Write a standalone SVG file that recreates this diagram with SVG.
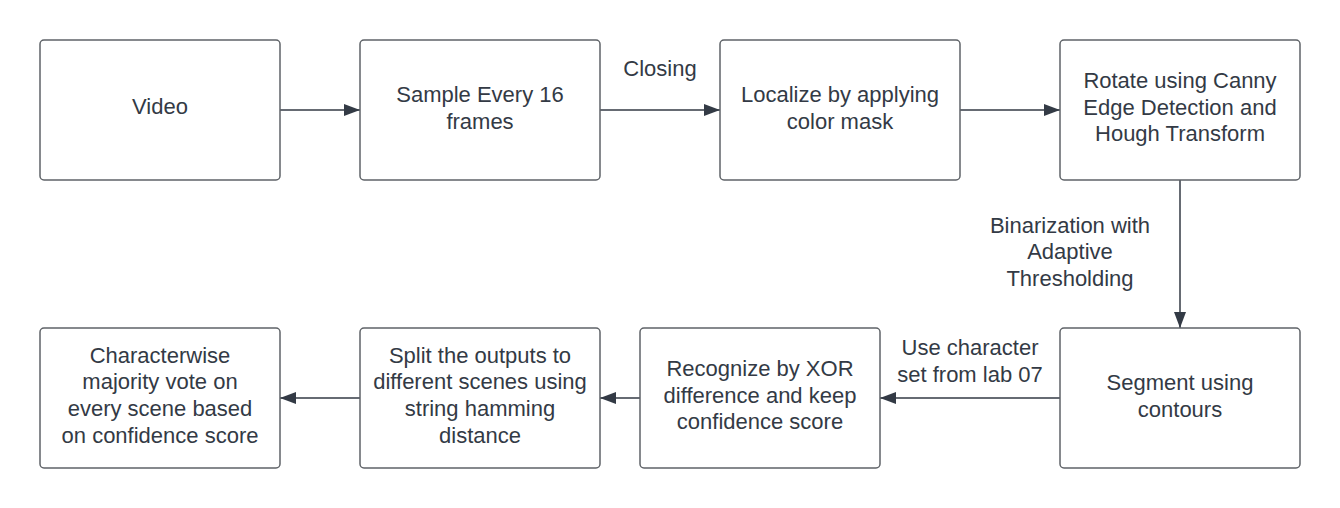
<svg xmlns="http://www.w3.org/2000/svg" width="1340" height="508" viewBox="0 0 1340 508">
<style>
.box{fill:#ffffff;stroke:#5f6368;stroke-width:1.5}
.t{font-family:"Liberation Sans",Arial,sans-serif;font-size:22px;fill:#333a45;text-anchor:middle}
.c{fill:none;stroke:#333a45;stroke-width:1.5}
</style>
<defs>
<marker id="ah" viewBox="0 0 16 12" refX="16" refY="6" markerWidth="16" markerHeight="12" markerUnits="userSpaceOnUse" orient="auto">
<path d="M0,0 L16,6 L0,12 Z" fill="#333a45"/>
</marker>
</defs>
<rect width="1340" height="508" fill="#ffffff"/>
<g id="connectors">
<line class="c" x1="280" y1="110" x2="360" y2="110" marker-end="url(#ah)"/>
<line class="c" x1="600" y1="110" x2="720" y2="110" marker-end="url(#ah)"/>
<line class="c" x1="960" y1="110" x2="1060" y2="110" marker-end="url(#ah)"/>
<line class="c" x1="1180" y1="180" x2="1180" y2="328" marker-end="url(#ah)"/>
<line class="c" x1="1060" y1="398" x2="880" y2="398" marker-end="url(#ah)"/>
<line class="c" x1="640" y1="398" x2="600" y2="398" marker-end="url(#ah)"/>
<line class="c" x1="360" y1="398" x2="280" y2="398" marker-end="url(#ah)"/>
<text class="t" x="660" y="76">Closing</text>
<text class="t" x="1070" y="232.7">Binarization with</text>
<text class="t" x="1070" y="259.3">Adaptive</text>
<text class="t" x="1070" y="286">Thresholding</text>
<text class="t" x="970" y="355">Use character</text>
<text class="t" x="970" y="381.7">set from lab 07</text>
</g>
<g id="n1">
<rect class="box" x="40" y="40" width="240" height="140" rx="4"/>
<text class="t" x="160" y="113.5">Video</text>
</g>
<g id="n2">
<rect class="box" x="360" y="40" width="240" height="140" rx="4"/>
<text class="t" x="480" y="102.3">Sample Every 16</text>
<text class="t" x="480" y="129">frames</text>
</g>
<g id="n3">
<rect class="box" x="720" y="40" width="240" height="140" rx="4"/>
<text class="t" x="840" y="102.3">Localize by applying</text>
<text class="t" x="840" y="129">color mask</text>
</g>
<g id="n4">
<rect class="box" x="1060" y="40" width="240" height="140" rx="4"/>
<text class="t" x="1180" y="88">Rotate using Canny</text>
<text class="t" x="1180" y="114.7">Edge Detection and</text>
<text class="t" x="1180" y="141.3">Hough Transform</text>
</g>
<g id="n5">
<rect class="box" x="1060" y="328" width="240" height="140" rx="4"/>
<text class="t" x="1180" y="390.3">Segment using</text>
<text class="t" x="1180" y="417">contours</text>
</g>
<g id="n6">
<rect class="box" x="640" y="328" width="240" height="140" rx="4"/>
<text class="t" x="760" y="376">Recognize by XOR</text>
<text class="t" x="760" y="402.7">difference and keep</text>
<text class="t" x="760" y="429.3">confidence score</text>
</g>
<g id="n7">
<rect class="box" x="360" y="328" width="240" height="140" rx="4"/>
<text class="t" x="480" y="362.7">Split the outputs to</text>
<text class="t" x="480" y="389.4">different scenes using</text>
<text class="t" x="480" y="416">string hamming</text>
<text class="t" x="480" y="442.7">distance</text>
</g>
<g id="n8">
<rect class="box" x="40" y="328" width="240" height="140" rx="4"/>
<text class="t" x="160" y="362.7">Characterwise</text>
<text class="t" x="160" y="389.4">majority vote on</text>
<text class="t" x="160" y="416">every scene based</text>
<text class="t" x="160" y="442.7">on confidence score</text>
</g>
</svg>
